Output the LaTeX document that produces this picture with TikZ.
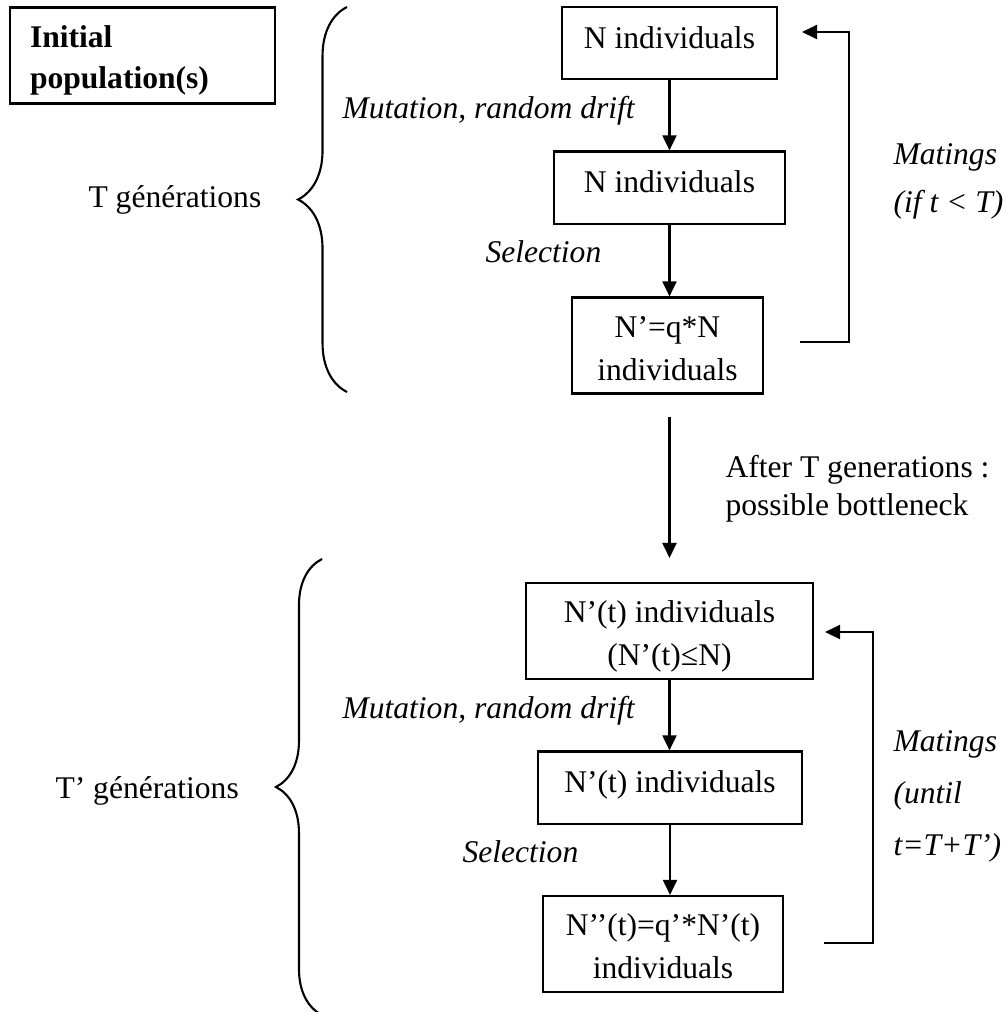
\documentclass[tikz,border=0pt]{standalone}
\usepackage{fontspec}
\setmainfont{Liberation Serif}
\usetikzlibrary{arrows.meta,decorations.pathreplacing}

\begin{document}
\begin{tikzpicture}[
        x=0.38pt, y=-0.38pt, % pixel grid, y pointing down
        every node/.style={font=\fontsize{12}{16.3}\selectfont},
        box/.style={draw, line width=0.8pt, inner xsep=0pt, inner ysep=0pt, align=center, text height=15.6pt, text depth=11.8pt},
        twoline/.style={text height=31.5pt, text depth=5pt},
        lbl/.style={anchor=base west, inner sep=0pt},
        act/.style={lbl, font=\fontsize{12}{16.3}\selectfont\itshape},
        flow/.style={line width=0.8pt, -{Triangle[length=5.7pt,width=5.3pt]}},
        brc/.style={line width=0.8pt, decorate, decoration={brace, amplitude=#1}}
    ]
    \useasboundingbox (0,0) rectangle (1005,1012);

    % Nodes
    \node[box, text height=15.2pt, text depth=21.3pt, align=left, text width=85.5pt, inner xsep=7.6pt, font=\fontsize{12}{15.6}\selectfont\bfseries] (init) at (142.5,55.5) {Initial\\population(s)};

    \node[box, minimum width=81.7pt] (box1) at (669.5,43) {N individuals};
    \node[box, minimum width=87.8pt] (box2) at (669.5,187.5) {N individuals};
    \node[box, twoline, minimum width=72.6pt] (box3) at (667.5,345.5) {N’=q*N\\individuals};

    \node[box, twoline, minimum width=109.1pt] (box4) at (669.5,631) {N’(t) individuals\\(N’(t)≤N)};
    \node[box, minimum width=100.3pt] (box5) at (670,787.5) {N’(t) individuals};
    \node[box, twoline, minimum width=91.2pt] (box6) at (663,944) {N’’(t)=q’*N’(t)\\individuals};

    \node[act] (mut1) at (342,118) {Mutation, random drift};
    \node[act] (sel1) at (485,262) {Selection};
    \node[act] (mut2) at (342,718) {Mutation, random drift};
    \node[act] (sel2) at (462,862) {Selection};

    \node[lbl] (gen1) at (88,207) {T générations};
    \node[lbl] (gen2) at (55,798) {T’ générations};
    \node[lbl, align=left, font=\fontsize{12}{14.4}\selectfont] (after) at (725,515) {After T generations :\\possible bottleneck};

    \node[act, align=left, font=\fontsize{12}{17.9}\selectfont\itshape] (mat1) at (893,212) {Matings\\(if t < T)};
    \node[act, align=left, font=\fontsize{12}{19.6}\selectfont\itshape] (mat2) at (893,855) {Matings\\(until\\t=T+T’)};

    \coordinate (back1) at (800,342);
    \coordinate (top1) at (802,32);
    \coordinate (back2) at (824,943);
    \coordinate (top2) at (825,632);

    % Braces
    \draw[brc=18.6pt] (347,392) -- (347,7);
    \draw[brc=17.5pt] (322,1015) -- (322,559);

    % Edges
    \draw[flow] (box1) -- (box2);
    \draw[flow] (box2.south) -- (box2.south |- box3.north);
    \draw[flow, shorten <=8.4pt, shorten >=9.1pt] (box4.north |- box3.south) -- (box4.north);
    \draw[flow] (box4.south) -- (box4.south |- box5.north);
    \draw[flow] (box5.south) -- (box5.south |- box6.north);

    \draw[flow] (back1) -- ++(49,0) |- (top1);
    \draw[flow] (back2) -- ++(49,0) |- (top2);

\end{tikzpicture}
\end{document}
